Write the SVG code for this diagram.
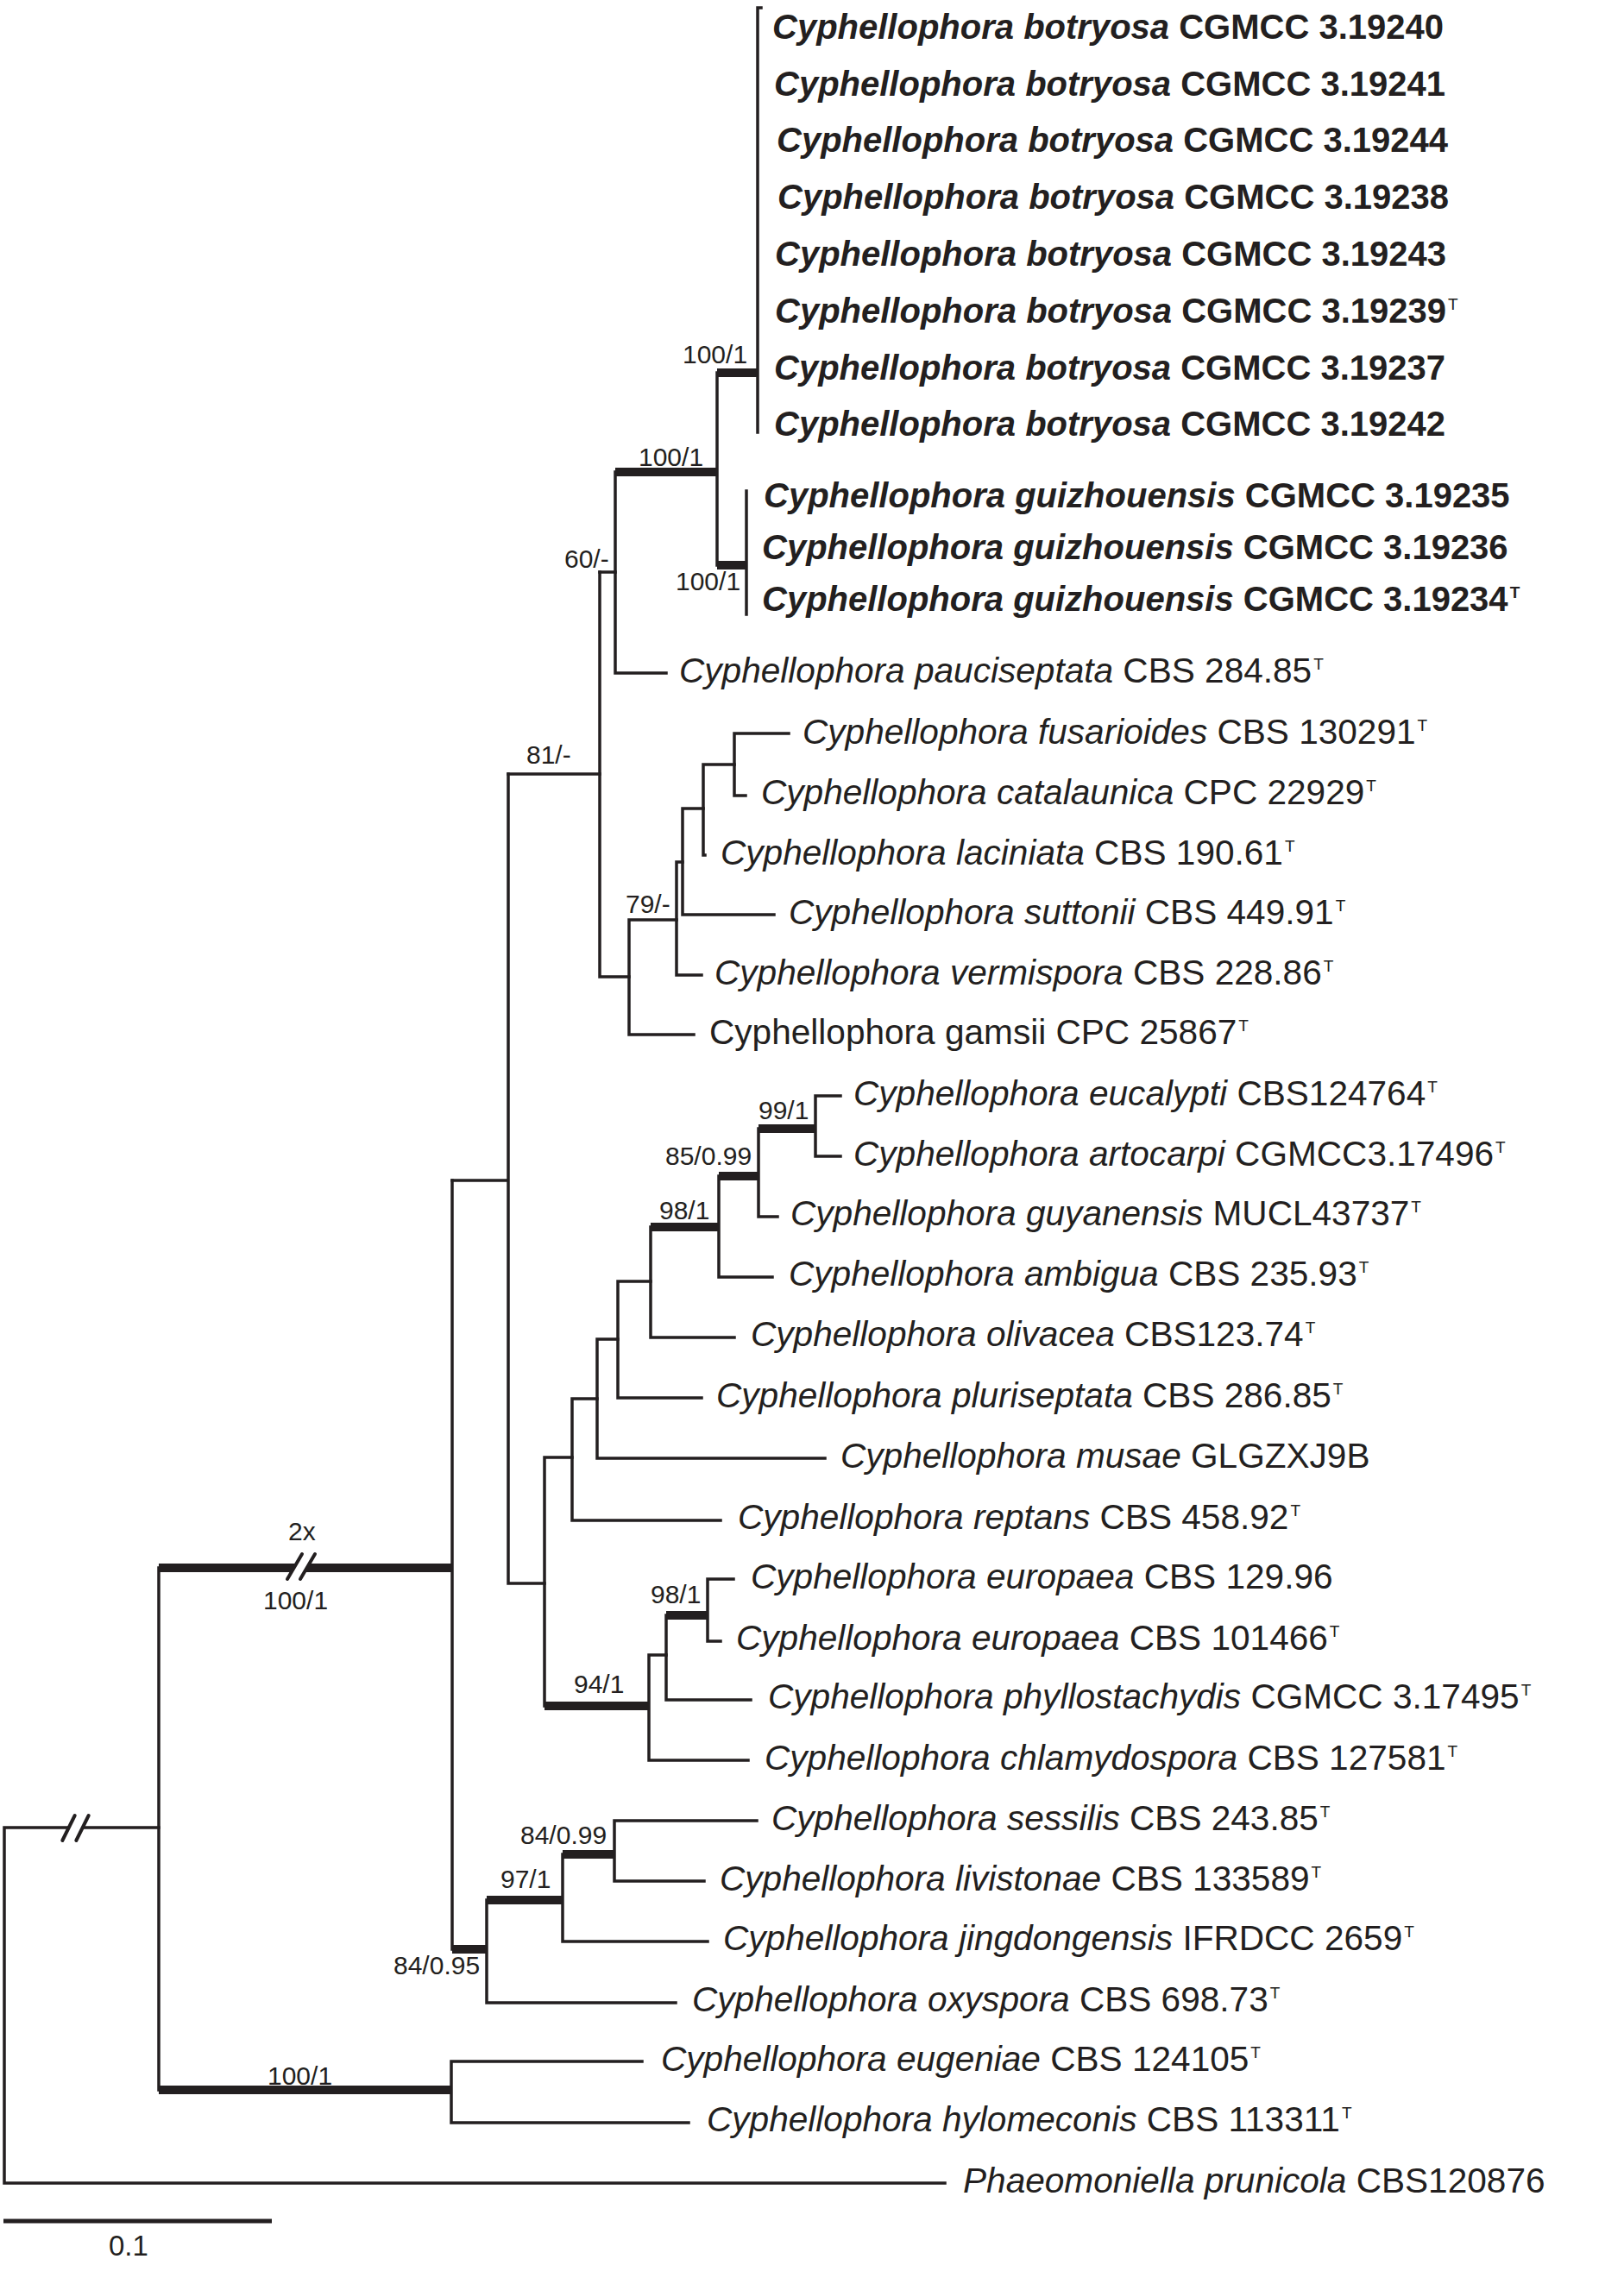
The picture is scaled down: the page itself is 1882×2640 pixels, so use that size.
<svg xmlns="http://www.w3.org/2000/svg" width="1882" height="2640" viewBox="0 0 1882 2640">
<style>
  .thin{fill:none;stroke:#231f20;stroke-width:3.5;stroke-linecap:square;stroke-linejoin:miter}
  .thick{fill:none;stroke:#231f20;stroke-width:10;stroke-linecap:butt}
  .slash{fill:none;stroke:#231f20;stroke-width:4;stroke-linecap:round}
  .gap{fill:#ffffff;stroke:none}
  text{font-family:"Liberation Sans",Arial,sans-serif;fill:#231f20}
  .tb{font-size:40px;font-weight:bold}
  .tn{font-size:40.6px;font-weight:normal}
  .i{font-style:italic}
  .sup{font-size:19px}
  .sv{font-size:30px}
  .sc{font-size:33px}
</style>
<rect x="0" y="0" width="1882" height="2640" fill="#ffffff"/>
<g id="connectors">
  <path class="thin" d="M878,9 V501 M878,9 H882"/>
  <path class="thin" d="M865,569 V712"/>
  <path class="thin" d="M831,432 V655"/>
  <path class="thin" d="M713,547 V780 H772"/>
  <path class="thin" d="M695,663 H713"/>
  <path class="thin" d="M695,663 V1132 H729"/>
  <path class="thin" d="M589,897 H695"/>
  <path class="thin" d="M729,1066 V1199 H804 M729,1066 H784"/>
  <path class="thin" d="M784,999 V1130 H813 M784,999 H791"/>
  <path class="thin" d="M791,937 V1060 H897 M791,937 H815"/>
  <path class="thin" d="M815,886 V991 H817 M815,886 H851"/>
  <path class="thin" d="M851,850 V922 H864 M851,850 H914"/>
  <path class="thin" d="M589,897 V1835 H631 M524,1368 H589"/>
  <path class="thin" d="M631,1689 V1977 M631,1689 H663"/>
  <path class="thin" d="M663,1621 V1762 H835 M663,1621 H692"/>
  <path class="thin" d="M692,1552 V1690 H956 M692,1552 H716"/>
  <path class="thin" d="M716,1485 V1620 H813 M716,1485 H754"/>
  <path class="thin" d="M754,1422 V1550 H851"/>
  <path class="thin" d="M833,1363 V1480 H895"/>
  <path class="thin" d="M879,1308 V1410 H901"/>
  <path class="thin" d="M974,1270 H945 V1340 H974"/>
  <path class="thin" d="M752,1918 V2040 H867 M752,1918 H772"/>
  <path class="thin" d="M772,1872 V1970 H870"/>
  <path class="thin" d="M850,1830 H820 V1902 H835"/>
  <path class="thin" d="M524,1368 V2259"/>
  <path class="thin" d="M564,2202 V2321 H783"/>
  <path class="thin" d="M652,2149 V2250 H820"/>
  <path class="thin" d="M877,2110 H712 V2180 H816"/>
  <path class="thin" d="M184,1817 V2422"/>
  <path class="thin" d="M744,2389 H523 V2460 H798"/>
  <path class="thin" d="M5,2118 H184 M5,2118 V2530 H1095"/>
  <path class="thick" d="M831,432 H878"/>
  <path class="thick" d="M831,655 H865"/>
  <path class="thick" d="M713,547 H831"/>
  <path class="thick" d="M754,1422 H833"/>
  <path class="thick" d="M833,1363 H879"/>
  <path class="thick" d="M879,1308 H945"/>
  <path class="thick" d="M631,1977 H752"/>
  <path class="thick" d="M772,1872 H820"/>
  <path class="thick" d="M184,1817 H524"/>
  <path class="thick" d="M524,2259 H564"/>
  <path class="thick" d="M564,2202 H652"/>
  <path class="thick" d="M652,2149 H712"/>
  <path class="thick" d="M184,2422 H523"/>
  <g id="break-2x">
    <polygon class="gap" points="350,1801 365,1801 348,1830 333,1830"/>
    <path class="slash" d="M350,1801 L333,1830 M365,1801 L348,1830"/>
  </g>
  <g id="break-root">
    <polygon class="gap" points="86.7,2104 102.7,2104 88.3,2133 72.3,2133"/>
    <path class="slash" d="M86.7,2104 L72.3,2133 M102.7,2104 L88.3,2133"/>
  </g>
  <path id="scale-bar" d="M4,2574 H315" fill="none" stroke="#231f20" stroke-width="5"/>
</g>
<g id="support-values">
  <text class="sv" x="791" y="421">100/1</text>
  <text class="sv" x="740" y="540">100/1</text>
  <text class="sv" x="783" y="684">100/1</text>
  <text class="sv" x="654" y="658">60/-</text>
  <text class="sv" x="610" y="885">81/-</text>
  <text class="sv" x="725" y="1058">79/-</text>
  <text class="sv" x="879" y="1297">99/1</text>
  <text class="sv" x="771" y="1350">85/0.99</text>
  <text class="sv" x="764" y="1413">98/1</text>
  <text class="sv" x="754" y="1858">98/1</text>
  <text class="sv" x="665" y="1962">94/1</text>
  <text class="sv" x="334" y="1785">2x</text>
  <text class="sv" x="305" y="1865">100/1</text>
  <text class="sv" x="603" y="2137">84/0.99</text>
  <text class="sv" x="580" y="2188">97/1</text>
  <text class="sv" x="456" y="2288">84/0.95</text>
  <text class="sv" x="310" y="2416">100/1</text>
  <text class="sc" x="126" y="2614">0.1</text>
</g>
<g id="tip-botryosa-19240"><text class="tb" x="895" y="45"><tspan class="i">Cyphellophora botryosa</tspan> CGMCC 3.19240</text></g>
<g id="tip-botryosa-19241"><text class="tb" x="897" y="111"><tspan class="i">Cyphellophora botryosa</tspan> CGMCC 3.19241</text></g>
<g id="tip-botryosa-19244"><text class="tb" x="900" y="176"><tspan class="i">Cyphellophora botryosa</tspan> CGMCC 3.19244</text></g>
<g id="tip-botryosa-19238"><text class="tb" x="901" y="242"><tspan class="i">Cyphellophora botryosa</tspan> CGMCC 3.19238</text></g>
<g id="tip-botryosa-19243"><text class="tb" x="898" y="308"><tspan class="i">Cyphellophora botryosa</tspan> CGMCC 3.19243</text></g>
<g id="tip-botryosa-19239"><text class="tb" x="898" y="374"><tspan class="i">Cyphellophora botryosa</tspan> CGMCC 3.19239<tspan class="sup" font-weight="normal" dx="2" dy="-15">T</tspan></text></g>
<g id="tip-botryosa-19237"><text class="tb" x="897" y="440"><tspan class="i">Cyphellophora botryosa</tspan> CGMCC 3.19237</text></g>
<g id="tip-botryosa-19242"><text class="tb" x="897" y="505"><tspan class="i">Cyphellophora botryosa</tspan> CGMCC 3.19242</text></g>
<g id="tip-guizhouensis-19235"><text class="tb" x="885" y="588"><tspan class="i">Cyphellophora guizhouensis</tspan> CGMCC 3.19235</text></g>
<g id="tip-guizhouensis-19236"><text class="tb" x="883" y="648"><tspan class="i">Cyphellophora guizhouensis</tspan> CGMCC 3.19236</text></g>
<g id="tip-guizhouensis-19234"><text class="tb" x="883" y="708"><tspan class="i">Cyphellophora guizhouensis</tspan> CGMCC 3.19234<tspan class="sup" dx="2" dy="-15">T</tspan></text></g>
<g id="tip-pauciseptata"><text class="tn" x="787" y="791"><tspan class="i">Cyphellophora pauciseptata</tspan> CBS 284.85<tspan class="sup" dx="2" dy="-15">T</tspan></text></g>
<g id="tip-fusarioides"><text class="tn" x="930" y="862"><tspan class="i">Cyphellophora fusarioides</tspan> CBS 130291<tspan class="sup" dx="2" dy="-15">T</tspan></text></g>
<g id="tip-catalaunica"><text class="tn" x="882" y="932"><tspan class="i">Cyphellophora catalaunica</tspan> CPC 22929<tspan class="sup" dx="2" dy="-15">T</tspan></text></g>
<g id="tip-laciniata"><text class="tn" x="835" y="1002"><tspan class="i">Cyphellophora laciniata</tspan> CBS 190.61<tspan class="sup" dx="2" dy="-15">T</tspan></text></g>
<g id="tip-suttonii"><text class="tn" x="914" y="1071"><tspan class="i">Cyphellophora suttonii</tspan> CBS 449.91<tspan class="sup" dx="2" dy="-15">T</tspan></text></g>
<g id="tip-vermispora"><text class="tn" x="828" y="1141"><tspan class="i">Cyphellophora vermispora</tspan> CBS 228.86<tspan class="sup" dx="2" dy="-15">T</tspan></text></g>
<g id="tip-gamsii"><text class="tn" x="822" y="1210">Cyphellophora gamsii CPC 25867<tspan class="sup" dx="2" dy="-15">T</tspan></text></g>
<g id="tip-eucalypti"><text class="tn" x="989" y="1281"><tspan class="i">Cyphellophora eucalypti</tspan> CBS124764<tspan class="sup" dx="2" dy="-15">T</tspan></text></g>
<g id="tip-artocarpi"><text class="tn" x="989" y="1351"><tspan class="i">Cyphellophora artocarpi</tspan> CGMCC3.17496<tspan class="sup" dx="2" dy="-15">T</tspan></text></g>
<g id="tip-guyanensis"><text class="tn" x="916" y="1420"><tspan class="i">Cyphellophora guyanensis</tspan> MUCL43737<tspan class="sup" dx="2" dy="-15">T</tspan></text></g>
<g id="tip-ambigua"><text class="tn" x="914" y="1490"><tspan class="i">Cyphellophora ambigua</tspan> CBS 235.93<tspan class="sup" dx="2" dy="-15">T</tspan></text></g>
<g id="tip-olivacea"><text class="tn" x="870" y="1560"><tspan class="i">Cyphellophora olivacea</tspan> CBS123.74<tspan class="sup" dx="2" dy="-15">T</tspan></text></g>
<g id="tip-pluriseptata"><text class="tn" x="830" y="1631"><tspan class="i">Cyphellophora pluriseptata</tspan> CBS 286.85<tspan class="sup" dx="2" dy="-15">T</tspan></text></g>
<g id="tip-musae"><text class="tn" x="974" y="1701"><tspan class="i">Cyphellophora musae</tspan> GLGZXJ9B</text></g>
<g id="tip-reptans"><text class="tn" x="855" y="1772"><tspan class="i">Cyphellophora reptans</tspan> CBS 458.92<tspan class="sup" dx="2" dy="-15">T</tspan></text></g>
<g id="tip-europaea-12996"><text class="tn" x="870" y="1841"><tspan class="i">Cyphellophora europaea</tspan> CBS 129.96</text></g>
<g id="tip-europaea-101466"><text class="tn" x="853" y="1912"><tspan class="i">Cyphellophora europaea</tspan> CBS 101466<tspan class="sup" dx="2" dy="-15">T</tspan></text></g>
<g id="tip-phyllostachydis"><text class="tn" x="890" y="1980"><tspan class="i">Cyphellophora phyllostachydis</tspan> CGMCC 3.17495<tspan class="sup" dx="2" dy="-15">T</tspan></text></g>
<g id="tip-chlamydospora"><text class="tn" x="886" y="2051"><tspan class="i">Cyphellophora chlamydospora</tspan> CBS 127581<tspan class="sup" dx="2" dy="-15">T</tspan></text></g>
<g id="tip-sessilis"><text class="tn" x="894" y="2121"><tspan class="i">Cyphellophora sessilis</tspan> CBS 243.85<tspan class="sup" dx="2" dy="-15">T</tspan></text></g>
<g id="tip-livistonae"><text class="tn" x="834" y="2191"><tspan class="i">Cyphellophora livistonae</tspan> CBS 133589<tspan class="sup" dx="2" dy="-15">T</tspan></text></g>
<g id="tip-jingdongensis"><text class="tn" x="838" y="2260"><tspan class="i">Cyphellophora jingdongensis</tspan> IFRDCC 2659<tspan class="sup" dx="2" dy="-15">T</tspan></text></g>
<g id="tip-oxyspora"><text class="tn" x="802" y="2331"><tspan class="i">Cyphellophora oxyspora</tspan> CBS 698.73<tspan class="sup" dx="2" dy="-15">T</tspan></text></g>
<g id="tip-eugeniae"><text class="tn" x="766" y="2400"><tspan class="i">Cyphellophora eugeniae</tspan> CBS 124105<tspan class="sup" dx="2" dy="-15">T</tspan></text></g>
<g id="tip-hylomeconis"><text class="tn" x="819" y="2470"><tspan class="i">Cyphellophora hylomeconis</tspan> CBS 113311<tspan class="sup" dx="2" dy="-15">T</tspan></text></g>
<g id="tip-phaeomoniella"><text class="tn" x="1116" y="2541"><tspan class="i">Phaeomoniella prunicola</tspan> CBS120876</text></g>
</svg>
